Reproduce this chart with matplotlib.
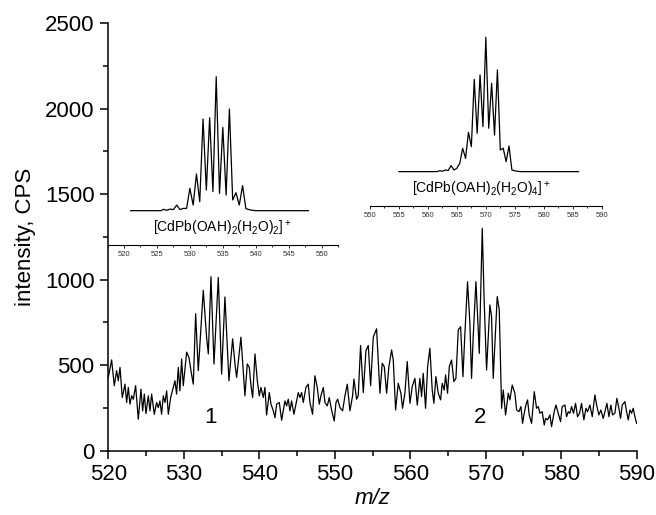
import numpy as np
import matplotlib
matplotlib.use("Agg")
import matplotlib.pyplot as plt
from matplotlib.ticker import MultipleLocator

plt.rcParams['font.family'] = ['Liberation Sans', 'DejaVu Sans']
plt.rcParams['mathtext.default'] = 'regular'

# MEASURED SPECTRUM (m/z, CPS)

mz = [520.00, 520.44, 520.79, 521.10, 521.32, 521.55, 521.85, 522.21, 522.43, 522.65,
      522.87, 523.09, 523.31, 523.62, 523.97, 524.33, 524.55, 524.77, 524.99, 525.30,
      525.52, 525.74, 526.09, 526.40, 526.62, 526.84, 527.06, 527.28, 527.51, 527.73,
      527.95, 528.26, 528.61, 528.83, 529.05, 529.27, 529.49, 529.71, 529.93, 530.38,
      530.68, 530.95, 531.26, 531.57, 531.92, 532.14, 532.58, 533.02, 533.25, 533.60,
      534.00, 534.57, 535.01, 535.45, 535.98, 536.47, 536.78, 537.00, 537.57, 538.10,
      538.41, 538.68, 538.90, 539.12, 539.43, 539.74, 540.00, 540.22, 540.53, 540.75,
      540.97, 541.33, 541.55, 541.86, 542.08, 542.30, 542.65, 542.96, 543.40, 543.62,
      543.84, 544.06, 544.28, 544.59, 544.86, 545.17, 545.39, 545.61, 545.83, 546.18,
      546.49, 546.71, 547.06, 547.37, 547.68, 547.95, 548.17, 548.48, 548.70, 549.01,
      549.27, 549.58, 549.93, 550.16, 550.38, 550.69, 551.04, 551.35, 551.66, 552.01,
      552.36, 552.54, 552.89, 553.11, 553.42, 553.78, 554.13, 554.44, 554.75, 555.10,
      555.54, 555.98, 556.29, 556.56, 556.87, 557.17, 557.53, 557.75, 558.06, 558.41,
      558.76, 558.98, 559.29, 559.60, 559.96, 560.26, 560.62, 560.93, 561.28, 561.50,
      561.72, 562.03, 562.30, 562.60, 562.91, 563.13, 563.40, 563.71, 564.02, 564.24,
      564.50, 564.68, 564.94, 565.17, 565.47, 565.78, 566.05, 566.36, 566.67, 566.98,
      567.24, 567.59, 567.90, 568.12, 568.34, 568.70, 569.01, 569.14, 569.36, 569.54,
      569.80, 570.11, 570.55, 570.77, 570.99, 571.52, 571.79, 572.10, 572.32, 572.63,
      572.98, 573.20, 573.51, 573.86, 574.09, 574.39, 574.66, 574.88, 575.10, 575.32,
      575.54, 575.76, 576.07, 576.43, 576.73, 576.96, 577.18, 577.48, 577.75, 577.93,
      578.19, 578.50, 578.72, 579.07, 579.30, 579.60, 579.91, 580.13, 580.49, 580.71,
      580.93, 581.15, 581.37, 581.63, 581.90, 582.16, 582.43, 582.69, 583.00, 583.27,
      583.49, 583.80, 584.11, 584.46, 584.73, 584.99, 585.26, 585.56, 585.79, 586.05,
      586.32, 586.58, 586.80, 587.11, 587.37, 587.64, 587.86, 588.08, 588.43, 588.66,
      588.88, 589.10, 589.32, 589.54, 589.76, 589.98]

cps = [428, 530, 379, 467, 408, 486, 310, 388, 281, 369,
       271, 320, 300, 379, 183, 359, 232, 330, 216, 320,
       232, 330, 212, 281, 251, 290, 212, 320, 281, 349,
       212, 310, 369, 408, 330, 486, 349, 535, 379, 575,
       545, 467, 388, 800, 467, 624, 937, 663, 565, 1016,
       506, 1012, 447, 898, 408, 653, 506, 428, 663, 320,
       506, 486, 379, 310, 565, 408, 320, 369, 310, 369,
       208, 339, 271, 232, 192, 271, 281, 177, 290, 261,
       300, 232, 290, 212, 271, 339, 310, 339, 281, 369,
       388, 281, 212, 437, 369, 271, 320, 369, 281, 261,
       310, 236, 173, 281, 300, 251, 232, 320, 388, 232,
       320, 418, 300, 320, 614, 339, 584, 614, 379, 663,
       712, 335, 510, 490, 335, 490, 588, 529, 237, 393,
       335, 247, 335, 520, 276, 374, 422, 266, 422, 315,
       451, 247, 490, 598, 354, 276, 432, 335, 296, 393,
       354, 442, 335, 490, 529, 403, 422, 705, 724, 432,
       685, 987, 744, 422, 666, 987, 705, 568, 958, 1299,
       861, 471, 851, 783, 422, 900, 822, 247, 354, 208,
       335, 296, 383, 335, 237, 227, 257, 159, 218, 266,
       296, 208, 159, 344, 247, 257, 218, 227, 149, 188,
       179, 208, 140, 227, 266, 218, 169, 257, 266, 198,
       227, 218, 257, 218, 276, 198, 218, 276, 179, 247,
       227, 266, 198, 325, 257, 208, 237, 188, 227, 276,
       198, 266, 208, 218, 305, 247, 188, 266, 286, 227,
       179, 237, 218, 247, 198, 159]

# CALCULATED ISOTOPE PATTERNS (relative %)

sim1_mz = [521, 525.6, 526, 526.5, 527, 527.5, 528, 528.5, 529, 529.5,
           530, 530.5, 531, 531.5, 532, 532.5, 533, 533.5, 534, 534.5,
           535, 535.5, 536, 536.5, 537, 537.5, 538, 538.5, 539.2, 540, 548]
sim1_int = [0, 0, 1.0, 0.3, 1.2, 0.8, 4.2, 0.8, 1.7, 1.7,
            16.7, 4.2, 27.4, 6.7, 68.4, 15.4, 69.4, 14.2, 100, 12.9,
            62.2, 11.7, 75.9, 8.0, 13.4, 4.2, 18.7, 1.5, 0.5, 0, 0]

sim2_mz = [555, 561.6, 562, 562.5, 563, 563.5, 564, 564.5, 565, 565.5,
           566, 566.5, 567, 567.5, 568, 568.5, 569, 569.5, 570, 570.5,
           571, 571.5, 572, 572.5, 573, 573.5, 574, 574.5, 575.2, 576, 586]
sim2_int = [0, 0, 0.7, 0.3, 1.2, 0.8, 4.5, 1.2, 2.5, 6.2,
            17.4, 9.9, 29.3, 18.6, 68.7, 28.5, 72.0, 33.5, 100, 32.3,
            65.8, 27.3, 75.7, 16.1, 17.4, 7.4, 19.1, 1.2, 0.4, 0, 0]

label1 = r'[CdPb(OAH)$_2$(H$_2$O)$_2$]$^+$'
label2 = r'[CdPb(OAH)$_2$(H$_2$O)$_4$]$^+$'

# MAIN PLOT

fig = plt.figure(figsize=(6.56, 5.15), dpi=100)
ax = fig.add_axes([0.1651, 0.1252, 0.8055, 0.8301])

ax.plot(mz, cps, color='black', lw=0.9)

ax.set_xlim(520, 590)
ax.set_ylim(0, 2500)
ax.xaxis.set_major_locator(MultipleLocator(10))
ax.xaxis.set_minor_locator(MultipleLocator(5))
ax.yaxis.set_major_locator(MultipleLocator(500))
ax.yaxis.set_minor_locator(MultipleLocator(250))

for s in ['top', 'right']:
    ax.spines[s].set_visible(False)
for s in ['left', 'bottom']:
    ax.spines[s].set_linewidth(1.1)

ax.tick_params(which='major', direction='out', length=6, width=1.1,
               labelsize=16, pad=4)
ax.tick_params(which='minor', direction='out', length=3.5, width=1.1)

ax.set_xlabel('m/z', fontsize=16, style='italic', labelpad=2)
ax.set_ylabel('intensity, CPS', fontsize=16, labelpad=6)

ax.text(533.6, 196, '1', fontsize=16, ha='center', va='center')
ax.text(569.2, 196, '2', fontsize=16, ha='center', va='center')

# INSETS


def draw_inset(rect, x, y, xlim, label, label_x):
    ins = fig.add_axes(rect)
    ins.patch.set_alpha(0)
    ins.plot(x, y, color='black', lw=0.9)
    ins.set_xlim(*xlim)
    ins.set_ylim(-25.6, 105)
    for s in ['top', 'right', 'left']:
        ins.spines[s].set_visible(False)
    ins.spines['bottom'].set_linewidth(0.8)
    ins.set_yticks([])
    ins.xaxis.set_major_locator(MultipleLocator(5))
    ins.xaxis.set_minor_locator(MultipleLocator(2.5))
    ins.tick_params(which='major', direction='out', length=2.5, width=0.6,
                    labelsize=5.5, pad=2, labelcolor='#333333')
    ins.tick_params(which='minor', direction='out', length=1.5, width=0.6)
    ins.text(label_x, -13.5, label, fontsize=10, ha='center', va='center')
    return ins


draw_inset([0.1639, 0.5243, 0.3515, 0.3398], sim1_mz, sim1_int,
           (517.5, 552.5), label1, 535.0)
draw_inset([0.5640, 0.6000, 0.3532, 0.3406], sim2_mz, sim2_int,
           (550, 590), label2, 569.3)

plt.savefig('out.png', dpi=100)
